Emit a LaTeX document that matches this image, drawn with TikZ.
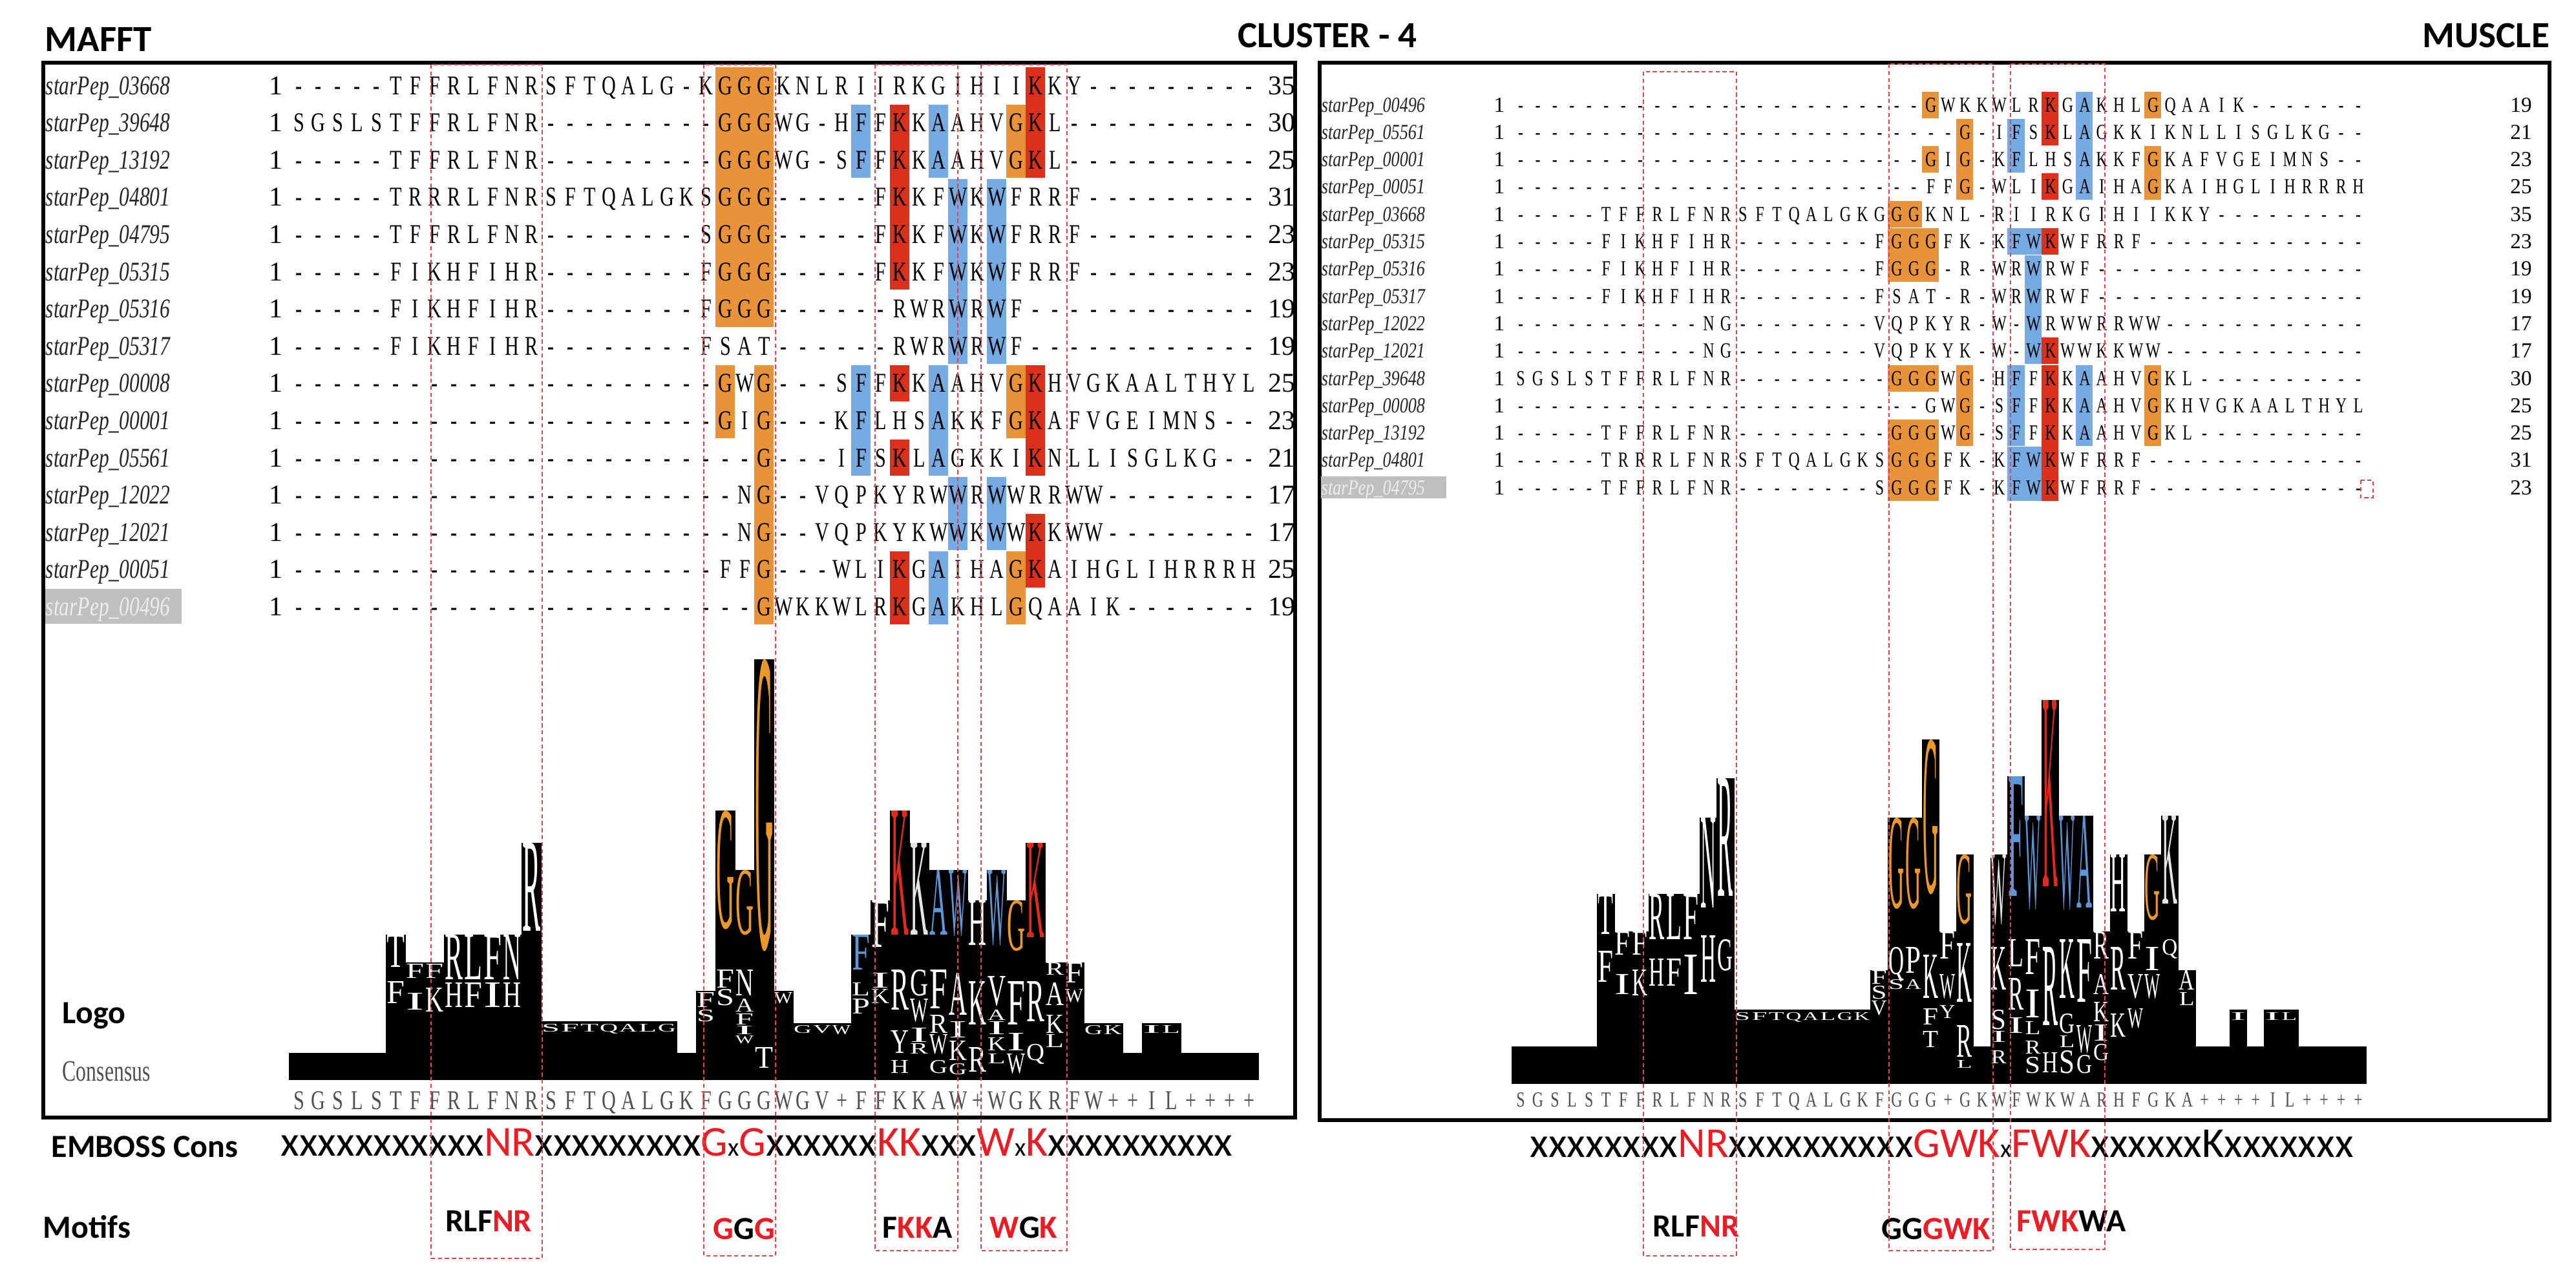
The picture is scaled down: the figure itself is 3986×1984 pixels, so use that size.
\documentclass[tikz,border=0pt]{standalone}
\usepackage{fontspec}
\usepackage{graphicx}
\setmainfont{Liberation Serif}
\newfontfamily\calfnt{Carlito}
\newfontfamily\logofnt{Liberation Serif}
\definecolor{hlor}{RGB}{232,146,58}
\definecolor{hlred}{RGB}{218,48,28}
\definecolor{hlbl}{RGB}{118,170,226}
\definecolor{logoor}{RGB}{236,152,40}
\definecolor{logored}{RGB}{228,40,28}
\definecolor{logobl}{RGB}{92,152,216}
\definecolor{motred}{RGB}{236,28,36}
\definecolor{boxred}{RGB}{242,60,72}
\definecolor{conscol}{RGB}{80,80,80}
\makeatletter
\newcommand\seqcells[2]{\@tfor\sq@c:=#2\do{\makebox[#1]{\scalebox{0.72}[1]{\sq@c}}}}
\makeatother
\newcount\lgn
\newcommand\mlg[5]{\global\advance\lgn by 1\relax
  \node[glyph,text=#5] (lg\the\lgn) at ({448+30*#1},#2) {\resizebox{7pt}{\dimexpr(#3pt-#2pt)/4\relax}{#4}};}
\newcommand\slg[5]{\global\advance\lgn by 1\relax
  \node[glyph,text=#5] (lg\the\lgn) at ({2340.2+26.45*#1},#2) {\resizebox{6pt}{\dimexpr(#3pt-#2pt)/4\relax}{#4}};}
\newcommand\mhl[5]{\fill[#5] ({447+30*#1},{132+57.6*#3-28}) rectangle ({477+30*#2},{132+57.6*#4+28});}
\newcommand\shl[5]{\fill[#5] ({2339+26.45*#1},{162+42.3*#3-20.5}) rectangle ({2339+26.45*(#2+1)},{162+42.3*#4+20.5});}
\newcommand\mrow[5][]{%
  \node[nameA,#1] (mn#2) at (70,{132+57.6*#2}) {\scalebox{0.75}[1]{starPep\_#3}};
  \node[numA] (mo#2) at (427,{132+57.6*#2}) {1};
  \node[seqA] (ms#2) at (447,{132+57.6*#2}) {\seqcells{7.5pt}{#4}};
  \node[numA] (me#2) at (1983,{132+57.6*#2}) {#5};}
\newcommand\srow[5][]{%
  \node[nameB,#1] (sn#2) at (2044,{162+42.3*#2}) {\scalebox{0.79}[1]{starPep\_#3}};
  \node[numB] (so#2) at (2320,{162+42.3*#2}) {1};
  \node[seqB] (ss#2) at (2339,{162+42.3*#2}) {\seqcells{6.6125pt}{#4}};
  \node[numB] (se#2) at (3901,{162+42.3*#2}) {#5};}
\tikzset{
  glyph/.style={inner sep=0pt, outer sep=0pt, anchor=north west, font=\logofnt},
  seqA/.style={inner sep=0pt, anchor=west, font=\fontsize{10.5}{12}\selectfont, text height=7pt, text depth=0pt},
  seqB/.style={inner sep=0pt, anchor=west, font=\fontsize{8.3}{10}\selectfont, text height=5.5pt, text depth=0pt},
  nameA/.style={inner sep=0pt, anchor=west, font=\fontsize{10.5}{12}\selectfont\itshape, text height=7pt, text depth=0pt, text=black!85},
  nameB/.style={inner sep=0pt, anchor=west, font=\fontsize{8.3}{10}\selectfont\itshape, text height=5.5pt, text depth=0pt, text=black!85},
  numA/.style={inner sep=0pt, font=\fontsize{10.5}{12}\selectfont, text height=7pt, text depth=0pt},
  numB/.style={inner sep=0pt, font=\fontsize{8.3}{10}\selectfont, text height=5.5pt, text depth=0pt},
  ttl/.style={inner sep=0pt, anchor=base west, font=\calfnt\bfseries\fontsize{14.25}{16}\selectfont},
  lbl/.style={inner sep=0pt, anchor=base west, font=\calfnt\bfseries\fontsize{12.5}{14}\selectfont},
  motif/.style={inner sep=0pt, anchor=base west, font=\calfnt\bfseries\fontsize{12.5}{14}\selectfont},
  emb/.style={inner sep=0pt, anchor=base west, font=\calfnt\fontsize{16.5}{18}\selectfont},
  panel/.style={draw=black, line width=1.3pt},
  motbox/.style={draw=boxred, line width=0.55pt, dash pattern=on 1.6pt off 1.1pt},
}
\newcommand\rd[1]{\textcolor{motred}{#1}}
\newcommand\smx{{\fontsize{10}{10}\selectfont x}}
\begin{document}
\begin{tikzpicture}[x=0.25pt,y=-0.25pt]
\useasboundingbox (0,0) rectangle (3986,1984);
\fill[white] (0,0) rectangle (3986,1984);
% titles
\node[ttl] (tmafft) at (69,79) {MAFFT};
\node[ttl] (tclus) at (1915,73) {CLUSTER - 4};
\node[ttl] (tmus) at (3748,73) {MUSCLE};
% panels
\draw[panel] (67,97) rectangle (2004,1729);
\draw[panel] (2042,97) rectangle (3945,1733);

% ---------- MAFFT highlights ----------
\mhl{22}{24}{0}{6}{hlor}
\mhl{22}{22}{8}{9}{hlor}
\mhl{24}{24}{8}{14}{hlor}
\mhl{37}{37}{1}{2}{hlor}
\mhl{37}{37}{8}{9}{hlor}
\mhl{37}{37}{13}{14}{hlor}
\mhl{31}{31}{1}{5}{hlred}
\mhl{31}{31}{8}{8}{hlred}
\mhl{31}{31}{10}{10}{hlred}
\mhl{31}{31}{13}{14}{hlred}
\mhl{38}{38}{0}{2}{hlred}
\mhl{38}{38}{8}{10}{hlred}
\mhl{38}{38}{12}{13}{hlred}
\mhl{29}{29}{1}{2}{hlbl}
\mhl{29}{29}{8}{10}{hlbl}
\mhl{33}{33}{1}{2}{hlbl}
\mhl{33}{33}{8}{10}{hlbl}
\mhl{33}{33}{13}{14}{hlbl}
\mhl{34}{34}{3}{7}{hlbl}
\mhl{34}{34}{11}{12}{hlbl}
\mhl{36}{36}{3}{7}{hlbl}
\mhl{36}{36}{11}{12}{hlbl}
\fill[gray!50] (70,911) rectangle (281,965);

% ---------- MAFFT rows ----------
\mrow{0}{03668}{-----TFFRLFNRSFTQALG-KGGGKNLRIIRKGIHIIKKY---------}{35}
\mrow{1}{39648}{SGSLSTFFRLFNR---------GGGWG-HFFKKAAHVGKL----------}{30}
\mrow{2}{13192}{-----TFFRLFNR---------GGGWG-SFFKKAAHVGKL----------}{25}
\mrow{3}{04801}{-----TRRRLFNRSFTQALGKSGGG-----FKKFWKWFRRF---------}{31}
\mrow{4}{04795}{-----TFFRLFNR--------SGGG-----FKKFWKWFRRF---------}{23}
\mrow{5}{05315}{-----FIKHFIHR--------FGGG-----FKKFWKWFRRF---------}{23}
\mrow{6}{05316}{-----FIKHFIHR--------FGGG------RWRWRWF------------}{19}
\mrow{7}{05317}{-----FIKHFIHR--------FSAT------RWRWRWF------------}{19}
\mrow{8}{00008}{----------------------GWG---SFFKKAAHVGKHVGKAALTHYL}{25}
\mrow{9}{00001}{----------------------GIG---KFLHSAKKFGKAFVGEIMNS--}{23}
\mrow{10}{05561}{------------------------G---IFSKLAGKKIKNLLISGLKG--}{21}
\mrow{11}{12022}{-----------------------NG--VQPKYRWWRWWRRWW--------}{17}
\mrow{12}{12021}{-----------------------NG--VQPKYKWWKWWKKWW--------}{17}
\mrow{13}{00051}{----------------------FFG---WLIKGAIHAGKAIHGLIHRRRH}{25}
\mrow[text=gray!15]{14}{00496}{------------------------GWKKWLRKGAKHLGQAAIK-------}{19}

% ---------- MAFFT logo ----------
\foreach \c/\t in {0/1629,1/1629,2/1629,3/1629,4/1629,5/1446,6/1489,7/1489,8/1446,9/1446,10/1446,11/1446,12/1304,13/1580,14/1580,15/1580,16/1580,17/1580,18/1580,19/1580,20/1629,21/1533,22/1254,23/1346,24/1020,25/1533,26/1583,27/1583,28/1583,29/1446,30/1393,31/1254,32/1304,33/1346,34/1346,35/1393,36/1346,37/1393,38/1304,39/1489,40/1489,41/1583,42/1583,43/1629,44/1583,45/1583,46/1629,47/1629,48/1629,49/1629}
  {\fill[black] ({447+30*\c},\t) rectangle ({477.8+30*\c},1671);}
\mlg{5}{1446}{1496}{T}{white}
\mlg{5}{1518}{1552}{F}{white}
\mlg{6}{1491}{1513}{F}{white}
\mlg{6}{1536}{1562}{I}{white}
\mlg{7}{1491}{1513}{F}{white}
\mlg{7}{1528}{1565}{K}{white}
\mlg{8}{1446}{1515}{R}{white}
\mlg{8}{1520}{1558}{H}{white}
\mlg{9}{1446}{1515}{L}{white}
\mlg{9}{1520}{1558}{F}{white}
\mlg{10}{1446}{1515}{F}{white}
\mlg{10}{1520}{1558}{I}{white}
\mlg{11}{1446}{1515}{N}{white}
\mlg{11}{1520}{1558}{H}{white}
\mlg{12}{1304}{1440}{R}{white}
\mlg{13}{1584}{1596}{S}{white}
\mlg{14}{1584}{1596}{F}{white}
\mlg{15}{1584}{1596}{T}{white}
\mlg{16}{1584}{1596}{Q}{white}
\mlg{17}{1584}{1596}{A}{white}
\mlg{18}{1584}{1596}{L}{white}
\mlg{19}{1584}{1596}{G}{white}
\mlg{21}{1535}{1558}{F}{white}
\mlg{21}{1562}{1580}{S}{white}
\mlg{22}{1254}{1435}{G}{logoor}
\mlg{22}{1500}{1528}{F}{white}
\mlg{22}{1530}{1555}{S}{white}
\mlg{23}{1346}{1445}{G}{logoor}
\mlg{23}{1500}{1540}{N}{white}
\mlg{23}{1545}{1565}{A}{white}
\mlg{23}{1568}{1585}{F}{white}
\mlg{23}{1587}{1600}{I}{white}
\mlg{23}{1602}{1614}{W}{white}
\mlg{24}{1020}{1465}{G}{logoor}
\mlg{24}{1620}{1652}{T}{white}
\mlg{25}{1535}{1552}{W}{white}
\mlg{26}{1586}{1598}{G}{white}
\mlg{27}{1586}{1598}{V}{white}
\mlg{28}{1586}{1600}{W}{white}
\mlg{29}{1446}{1500}{F}{logobl}
\mlg{29}{1520}{1540}{L}{white}
\mlg{29}{1545}{1568}{P}{white}
\mlg{30}{1393}{1465}{F}{white}
\mlg{30}{1505}{1528}{I}{white}
\mlg{30}{1530}{1552}{K}{white}
\mlg{31}{1254}{1446}{K}{logored}
\mlg{31}{1500}{1562}{R}{white}
\mlg{31}{1594}{1629}{Y}{white}
\mlg{31}{1640}{1660}{H}{white}
\mlg{32}{1304}{1446}{K}{white!80!gray}
\mlg{32}{1500}{1540}{G}{white}
\mlg{32}{1545}{1580}{W}{white}
\mlg{32}{1590}{1612}{I}{white}
\mlg{32}{1614}{1630}{R}{white}
\mlg{33}{1346}{1446}{A}{logobl}
\mlg{33}{1500}{1560}{F}{white}
\mlg{33}{1570}{1598}{R}{white}
\mlg{33}{1600}{1630}{W}{white}
\mlg{33}{1640}{1660}{G}{white}
\mlg{34}{1346}{1446}{W}{logobl}
\mlg{34}{1505}{1570}{A}{white}
\mlg{34}{1580}{1605}{I}{white}
\mlg{34}{1610}{1640}{K}{white}
\mlg{34}{1645}{1662}{G}{white}
\mlg{35}{1393}{1462}{H}{white}
\mlg{35}{1518}{1585}{K}{white}
\mlg{35}{1620}{1658}{R}{white}
\mlg{36}{1346}{1460}{W}{logobl}
\mlg{36}{1510}{1555}{V}{white}
\mlg{36}{1562}{1578}{A}{white}
\mlg{36}{1580}{1600}{I}{white}
\mlg{36}{1605}{1625}{K}{white}
\mlg{36}{1630}{1645}{L}{white}
\mlg{37}{1393}{1470}{G}{logoor}
\mlg{37}{1518}{1585}{F}{white}
\mlg{37}{1598}{1625}{I}{white}
\mlg{37}{1630}{1660}{W}{white}
\mlg{38}{1304}{1450}{K}{logored}
\mlg{38}{1518}{1580}{R}{white}
\mlg{38}{1615}{1640}{Q}{white}
\mlg{39}{1489}{1508}{R}{white}
\mlg{39}{1520}{1555}{A}{white}
\mlg{39}{1570}{1598}{K}{white}
\mlg{39}{1600}{1620}{L}{white}
\mlg{40}{1489}{1520}{F}{white}
\mlg{40}{1530}{1550}{W}{white}
\mlg{41}{1586}{1600}{G}{white}
\mlg{42}{1586}{1600}{K}{white}
\mlg{44}{1586}{1598}{I}{white}
\mlg{45}{1586}{1598}{L}{white}
\node[lbl] (llogoA) at (96,1583) {Logo};
\node[inner sep=0pt, anchor=base west, text=conscol, font=\fontsize{11.5}{12}\selectfont] (lconsA) at (96,1672) {\scalebox{0.69}[1]{Consensus}};
\node[seqA, text=conscol] (consA) at (447,1702) {\seqcells{7.5pt}{SGSLSTFFRLFNRSFTQALGKFGGGWGV+FFKKAW+WGKRFW++IL++++}};

% ---------- MUSCLE highlights ----------
\shl{22}{23}{4}{4}{hlor}
\shl{22}{24}{5}{6}{hlor}
\shl{24}{24}{0}{0}{hlor}
\shl{24}{24}{2}{2}{hlor}
\shl{26}{26}{1}{3}{hlor}
\shl{37}{37}{0}{0}{hlor}
\shl{37}{37}{2}{3}{hlor}
\shl{22}{24}{10}{10}{hlor}
\shl{26}{26}{10}{12}{hlor}
\shl{22}{24}{12}{14}{hlor}
\shl{37}{37}{10}{12}{hlor}
\shl{29}{29}{1}{2}{hlbl}
\shl{33}{33}{0}{3}{hlbl}
\shl{29}{30}{5}{5}{hlbl}
\shl{30}{30}{6}{9}{hlbl}
\shl{29}{29}{10}{12}{hlbl}
\shl{33}{33}{10}{12}{hlbl}
\shl{29}{30}{13}{14}{hlbl}
\shl{31}{31}{0}{1}{hlred}
\shl{31}{31}{3}{3}{hlred}
\shl{31}{31}{5}{5}{hlred}
\shl{31}{31}{9}{9}{hlred}
\shl{31}{31}{10}{14}{hlred}
\fill[gray!50] (2044,737) rectangle (2238,771);

% ---------- MUSCLE rows ----------
\srow{0}{00496}{------------------------GWKKWLRKGAKHLGQAAIK-------}{19}
\srow{1}{05561}{--------------------------G-IFSKLAGKKIKNLLISGLKG--}{21}
\srow{2}{00001}{------------------------GIG-KFLHSAKKFGKAFVGEIMNS--}{23}
\srow{3}{00051}{------------------------FFG-WLIKGAIHAGKAIHGLIHRRRH}{25}
\srow{4}{03668}{-----TFFRLFNRSFTQALGKGGGKNL-RIIRKGIHIIKKY---------}{35}
\srow{5}{05315}{-----FIKHFIHR--------FGGGFK-KFWKWFRRF-------------}{23}
\srow{6}{05316}{-----FIKHFIHR--------FGGG-R-WRWRWF----------------}{19}
\srow{7}{05317}{-----FIKHFIHR--------FSAT-R-WRWRWF----------------}{19}
\srow{8}{12022}{-----------NG--------VQPKYR-W-WRWWRRWW------------}{17}
\srow{9}{12021}{-----------NG--------VQPKYK-W-WKWWKKWW------------}{17}
\srow{10}{39648}{SGSLSTFFRLFNR---------GGGWG-HFFKKAAHVGKL----------}{30}
\srow{11}{00008}{------------------------GWG-SFFKKAAHVGKHVGKAALTHYL}{25}
\srow{12}{13192}{-----TFFRLFNR---------GGGWG-SFFKKAAHVGKL----------}{25}
\srow{13}{04801}{-----TRRRLFNRSFTQALGKSGGGFK-KFWKWFRRF-------------}{31}
\srow[text=gray!15]{14}{04795}{-----TFFRLFNR--------SGGGFK-KFWKWFRRF-------------}{23}

% ---------- MUSCLE logo ----------
\foreach \c/\t in {0/1619,1/1619,2/1619,3/1619,4/1619,5/1383,6/1441,7/1441,8/1383,9/1383,10/1383,11/1265,12/1204,13/1562,14/1562,15/1562,16/1562,17/1562,18/1562,19/1562,20/1562,21/1501,22/1265,23/1265,24/1144,25/1441,26/1322,27/1619,28/1322,29/1201,30/1262,31/1083,32/1262,33/1262,34/1441,35/1322,36/1441,37/1322,38/1262,39/1501,40/1619,41/1619,42/1562,43/1619,44/1562,45/1562,46/1619,47/1619,48/1619,49/1619}
  {\fill[black] ({2339+26.45*\c},\t) rectangle ({2339.8+26.45*(\c+1)},1677);}
\slg{5}{1383}{1445}{T}{white}
\slg{5}{1471}{1519}{F}{white}
\slg{6}{1441}{1477}{F}{white}
\slg{6}{1507}{1538}{I}{white}
\slg{7}{1441}{1477}{F}{white}
\slg{7}{1500}{1540}{K}{white}
\slg{8}{1383}{1453}{R}{white}
\slg{8}{1483}{1525}{H}{white}
\slg{9}{1383}{1453}{L}{white}
\slg{9}{1483}{1525}{F}{white}
\slg{10}{1383}{1453}{F}{white}
\slg{10}{1477}{1538}{I}{white}
\slg{11}{1265}{1404}{N}{white}
\slg{11}{1447}{1519}{H}{white}
\slg{12}{1204}{1386}{R}{white}
\slg{12}{1453}{1501}{G}{white}
\slg{13}{1566}{1578}{S}{white}
\slg{14}{1566}{1578}{F}{white}
\slg{15}{1566}{1578}{T}{white}
\slg{16}{1566}{1578}{Q}{white}
\slg{17}{1566}{1578}{A}{white}
\slg{18}{1566}{1578}{L}{white}
\slg{19}{1566}{1578}{G}{white}
\slg{20}{1566}{1578}{K}{white}
\slg{21}{1501}{1522}{F}{white}
\slg{21}{1525}{1545}{S}{white}
\slg{21}{1548}{1570}{V}{white}
\slg{22}{1265}{1404}{G}{logoor}
\slg{22}{1465}{1507}{Q}{white}
\slg{22}{1515}{1530}{S}{white}
\slg{23}{1265}{1404}{G}{logoor}
\slg{23}{1465}{1505}{P}{white}
\slg{23}{1515}{1530}{A}{white}
\slg{24}{1144}{1380}{G}{logoor}
\slg{24}{1477}{1544}{K}{white}
\slg{24}{1560}{1585}{F}{white}
\slg{24}{1595}{1620}{T}{white}
\slg{25}{1441}{1483}{F}{white}
\slg{25}{1507}{1544}{W}{white}
\slg{25}{1555}{1575}{Y}{white}
\slg{26}{1322}{1428}{G}{logoor}
\slg{26}{1459}{1550}{K}{white}
\slg{26}{1586}{1635}{R}{white}
\slg{26}{1640}{1652}{L}{white}
\slg{28}{1322}{1428}{W}{white!80!gray}
\slg{28}{1465}{1531}{K}{white}
\slg{28}{1562}{1592}{S}{white}
\slg{28}{1595}{1612}{I}{white}
\slg{28}{1625}{1645}{R}{white}
\slg{29}{1201}{1386}{F}{logobl}
\slg{29}{1453}{1495}{L}{white}
\slg{29}{1513}{1562}{R}{white}
\slg{29}{1574}{1598}{I}{white}
\slg{30}{1262}{1404}{W}{logobl}
\slg{30}{1453}{1507}{F}{white}
\slg{30}{1531}{1574}{I}{white}
\slg{30}{1580}{1600}{L}{white}
\slg{30}{1610}{1630}{R}{white}
\slg{30}{1635}{1660}{S}{white}
\slg{31}{1083}{1371}{K}{logored}
\slg{31}{1465}{1586}{R}{white}
\slg{31}{1628}{1659}{H}{white}
\slg{32}{1262}{1404}{W}{logobl}
\slg{32}{1453}{1544}{K}{white}
\slg{32}{1568}{1598}{G}{white}
\slg{32}{1602}{1620}{L}{white}
\slg{32}{1625}{1660}{S}{white}
\slg{33}{1262}{1404}{A}{logobl}
\slg{33}{1453}{1550}{F}{white}
\slg{33}{1586}{1628}{W}{white}
\slg{33}{1632}{1660}{G}{white}
\slg{34}{1441}{1483}{R}{white}
\slg{34}{1507}{1538}{A}{white}
\slg{34}{1550}{1580}{K}{white}
\slg{34}{1585}{1610}{I}{white}
\slg{34}{1615}{1640}{G}{white}
\slg{35}{1322}{1410}{H}{white}
\slg{35}{1465}{1531}{R}{white}
\slg{35}{1568}{1604}{K}{white}
\slg{36}{1441}{1483}{F}{white}
\slg{36}{1507}{1544}{V}{white}
\slg{36}{1560}{1590}{W}{white}
\slg{37}{1322}{1422}{G}{logoor}
\slg{37}{1465}{1501}{I}{white}
\slg{37}{1507}{1544}{W}{white}
\slg{38}{1262}{1398}{K}{white!80!gray}
\slg{38}{1453}{1477}{Q}{white}
\slg{39}{1501}{1531}{A}{white}
\slg{39}{1535}{1555}{L}{white}
\slg{42}{1566}{1578}{I}{white}
\slg{44}{1566}{1578}{I}{white}
\slg{45}{1566}{1578}{L}{white}
\node[seqB, text=conscol] (consB) at (2339,1701) {\seqcells{6.6125pt}{SGSLSTFFRLFNRSFTQALGKFGGG+GKWFWKWARHFGKA++++IL++++}};

% ---------- bottom labels ----------
\node[lbl] (lemb) at (79,1790) {EMBOSS Cons};
\node[lbl] (lmot) at (66,1915) {Motifs};
\node[emb] (embA) at (434,1788) {xxxxxxxxxxx\rd{NR}xxxxxxxxx\rd{G}\smx\rd{G}xxxxxx\rd{KK}xxx\rd{W}\smx\rd{K}xxxxxxxxxx};
\node[emb] (embB) at (2367,1790) {xxxxxxxx\rd{NR}xxxxxxxxxx\rd{GWK}\smx\rd{FWK}xxxxxxKxxxxxxx};
\node[motif] (ma1) at (689,1905) {RLF\rd{NR}};
\node[motif] (ma2) at (1103,1917) {\rd{G}G\rd{G}};
\node[motif] (ma3) at (1365,1915) {F\rd{KK}A};
\node[motif] (ma4) at (1531,1915) {\rd{W}G\rd{K}};
\node[motif] (mb1) at (2557,1913) {RLF\rd{NR}};
\node[motif] (mb2) at (2911,1917) {GG\rd{GWK}};
\node[motif] (mb3) at (3120,1905) {\rd{FWK}WA};

% ---------- dashed motif boxes ----------
\draw[motbox] (667,100) rectangle (839,1947);
\draw[motbox] (1089,100) rectangle (1200,1943);
\draw[motbox] (1354,100) rectangle (1482,1935);
\draw[motbox] (1518,100) rectangle (1651,1935);
\draw[motbox] (2543,111) rectangle (2687,1943);
\draw[motbox] (2923,99) rectangle (3084,1935);
\draw[motbox] (3111,99) rectangle (3257,1933);
\draw[motbox] (3653,743) rectangle (3672,770);
\end{tikzpicture}
\end{document}
